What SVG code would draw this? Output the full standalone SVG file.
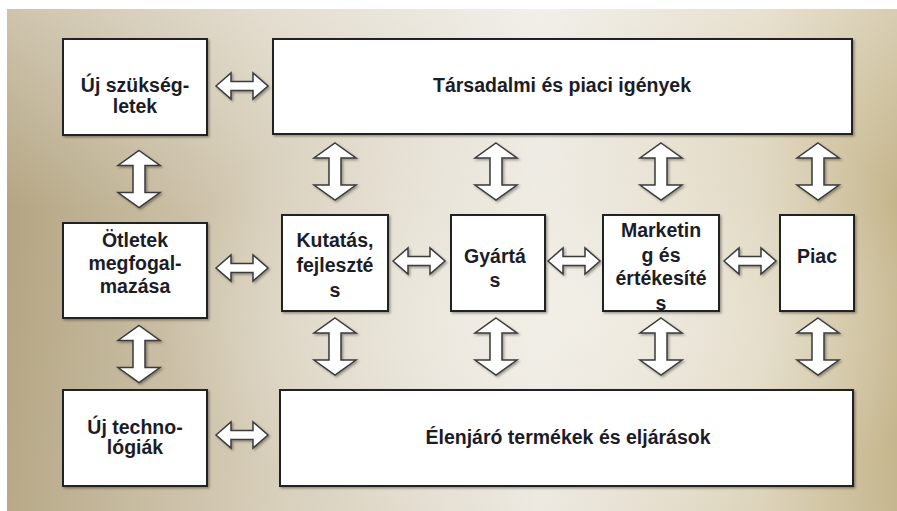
<svg xmlns="http://www.w3.org/2000/svg" width="897" height="511" viewBox="0 0 897 511">
  <defs>
    <linearGradient id="bgH" x1="0" y1="0" x2="1" y2="0">
      <stop offset="0" stop-color="#b4a582"/>
      <stop offset="0.3" stop-color="#d6cdb8"/>
      <stop offset="0.6" stop-color="#ebe7de"/>
      <stop offset="0.85" stop-color="#dbd1b6"/>
      <stop offset="1" stop-color="#c3b388"/>
    </linearGradient>
    <linearGradient id="bgV" x1="0" y1="0" x2="0" y2="1">
      <stop offset="0" stop-color="#ffffff" stop-opacity="0.35"/>
      <stop offset="0.4" stop-color="#ffffff" stop-opacity="0"/>
      <stop offset="1" stop-color="#ffffff" stop-opacity="0.05"/>
    </linearGradient>
    <radialGradient id="glow" cx="0.62" cy="0.6" r="0.45">
      <stop offset="0" stop-color="#f4f1ea" stop-opacity="0.8"/>
      <stop offset="1" stop-color="#f4f1ea" stop-opacity="0"/>
    </radialGradient>
    <filter id="sh" x="-20%" y="-20%" width="140%" height="140%">
      <feDropShadow dx="1.5" dy="1.5" stdDeviation="0.8" flood-color="#000" flood-opacity="0.35"/>
    </filter>
    <path id="ah" d="M-26,0 L-11,-13 L-11,-4.5 L11,-4.5 L11,-13 L26,0 L11,13 L11,4.5 L-11,4.5 L-11,13 Z"/>
    <path id="av" d="M0,-28.5 L21,-13.5 L6,-13.5 L6,13.5 L21,13.5 L0,28.5 L-21,13.5 L-6,13.5 L-6,-13.5 L-21,-13.5 Z"/>
  </defs>
  <style>
    .box { fill: #ffffff; stroke: #222222; stroke-width: 2; filter: url(#sh); }
    .lbl { font-family: "Liberation Sans", Arial, sans-serif; font-weight: bold; font-size: 19.5px; fill: #1c1c28; text-anchor: middle; }
    .arr { fill: #ffffff; stroke: #3a3a3a; stroke-width: 1.5; stroke-linejoin: miter; filter: url(#sh); }
  </style>

  <rect x="0" y="0" width="897" height="511" fill="#ffffff"/>
  <rect x="7" y="9" width="890" height="502" fill="url(#bgH)"/>
  <rect x="7" y="9" width="890" height="502" fill="url(#glow)"/>
  <rect x="7" y="9" width="890" height="502" fill="url(#bgV)"/>

  <g id="connectors">
    <use href="#ah" class="arr" x="242" y="86"/>
    <use href="#ah" class="arr" x="242" y="268"/>
    <use href="#ah" class="arr" x="242" y="435"/>
    <use href="#ah" class="arr" x="419" y="261"/>
    <use href="#ah" class="arr" x="574" y="261"/>
    <use href="#ah" class="arr" x="750" y="261"/>
    <use href="#av" class="arr" x="139" y="179"/>
    <use href="#av" class="arr" x="139" y="354"/>
    <use href="#av" class="arr" x="335" y="171.5"/>
    <use href="#av" class="arr" x="496" y="171.5"/>
    <use href="#av" class="arr" x="661" y="171.5"/>
    <use href="#av" class="arr" x="818" y="171.5"/>
    <use href="#av" class="arr" x="335" y="346.5"/>
    <use href="#av" class="arr" x="496" y="346.5"/>
    <use href="#av" class="arr" x="661" y="346.5"/>
    <use href="#av" class="arr" x="818" y="346.5"/>
  </g>

  <g id="uj-szuksegletek">
    <rect class="box" x="63" y="39" width="144" height="96"/>
    <text class="lbl" x="135" y="92">Új szükség-</text>
    <text class="lbl" x="135" y="113">letek</text>
  </g>
  <g id="tarsadalmi">
    <rect class="box" x="273" y="39" width="579" height="95"/>
    <text class="lbl" x="562" y="92">Társadalmi és piaci igények</text>
  </g>
  <g id="otletek">
    <rect class="box" x="63" y="223" width="144" height="95"/>
    <text class="lbl" x="135" y="247">Ötletek</text>
    <text class="lbl" x="135" y="270">megfogal-</text>
    <text class="lbl" x="135" y="293">mazása</text>
  </g>
  <g id="uj-technologiak">
    <rect class="box" x="63" y="390" width="144" height="96"/>
    <text class="lbl" x="135" y="434">Új techno-</text>
    <text class="lbl" x="135" y="454">lógiák</text>
  </g>
  <g id="elenjaro">
    <rect class="box" x="280" y="390" width="573" height="96"/>
    <text class="lbl" x="568" y="444">Élenjáró termékek és eljárások</text>
  </g>
  <g id="kutatas">
    <rect class="box" x="282" y="215" width="106" height="96"/>
    <text class="lbl" x="335" y="247">Kutatás,</text>
    <text class="lbl" x="335" y="272">fejleszté</text>
    <text class="lbl" x="335" y="297">s</text>
  </g>
  <g id="gyartas">
    <rect class="box" x="451" y="215" width="94" height="96"/>
    <text class="lbl" x="495" y="263">Gyártá</text>
    <text class="lbl" x="495" y="287">s</text>
  </g>
  <g id="marketing">
    <rect class="box" x="603" y="215" width="116" height="96"/>
    <text class="lbl" x="661" y="237">Marketin</text>
    <text class="lbl" x="661" y="262">g és</text>
    <text class="lbl" x="661" y="285">értékesíté</text>
    <text class="lbl" x="661" y="310">s</text>
  </g>
  <g id="piac">
    <rect class="box" x="780" y="215" width="74" height="96"/>
    <text class="lbl" x="817" y="263">Piac</text>
  </g>
</svg>
